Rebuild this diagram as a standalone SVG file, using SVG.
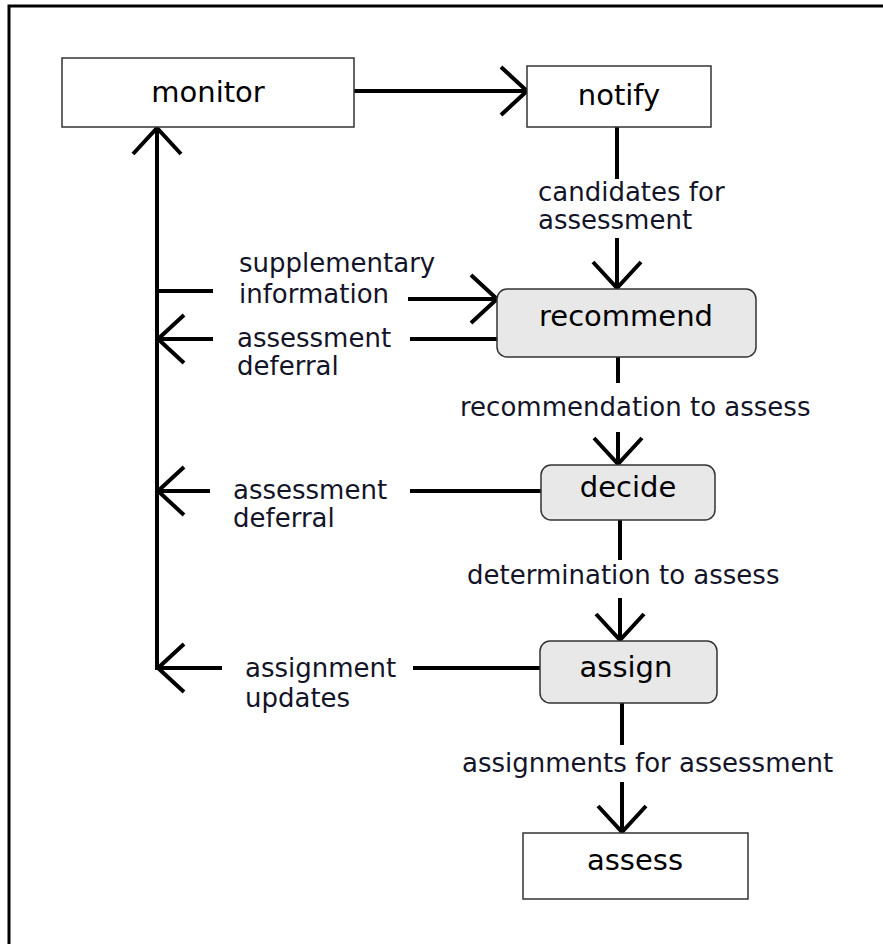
<svg xmlns="http://www.w3.org/2000/svg" width="883" height="944" viewBox="0 0 883 944">
  <style>
    .box { fill: #ffffff; stroke: #333333; stroke-width: 1.5; }
    .step { fill: #e8e8e8; stroke: #333333; stroke-width: 1.5; }
    .name { font-family: "DejaVu Sans", Verdana, sans-serif; font-size: 29px; fill: #000000; text-anchor: middle; }
    .lbl { font-family: "DejaVu Sans", Verdana, sans-serif; font-size: 26px; fill: #141428; }
    .wire { fill: none; stroke: #000000; stroke-width: 4; }
  </style>
  <defs>
    <marker id="arr" viewBox="-32 -30 36 60" refX="0" refY="0" markerWidth="36" markerHeight="60" markerUnits="userSpaceOnUse" orient="auto">
      <path d="M-26,-24 L0,0 L-26,24" fill="none" stroke="#000000" stroke-width="4"/>
    </marker>
  </defs>

  <rect width="883" height="944" fill="#ffffff"/>
  <!-- frame -->
  <path d="M9,944 V6 H883" fill="none" stroke="#000000" stroke-width="3"/>

  <!-- connectors -->
  <g id="connectors" class="wire">
    <path d="M354,91 H527" marker-end="url(#arr)"/>
    <path d="M617,127 V179"/>
    <path d="M617,238 V288" marker-end="url(#arr)"/>
    <path d="M157,291 H213"/>
    <path d="M408,299 H497" marker-end="url(#arr)"/>
    <path d="M497,339 H410"/>
    <path d="M213,339 H158" marker-end="url(#arr)"/>
    <path d="M618,357 V383"/>
    <path d="M618,432 V464" marker-end="url(#arr)"/>
    <path d="M541,491 H410"/>
    <path d="M210,491 H158" marker-end="url(#arr)"/>
    <path d="M620,520 V560"/>
    <path d="M620,598 V640" marker-end="url(#arr)"/>
    <path d="M540,668 H413"/>
    <path d="M222,668 H158" marker-end="url(#arr)"/>
    <path d="M622,703 V745"/>
    <path d="M622,782 V832" marker-end="url(#arr)"/>
    <path d="M157,670 V128" marker-end="url(#arr)"/>
  </g>

  <!-- connector labels -->
  <g id="labels" class="lbl">
    <text x="538" y="201">candidates for</text>
    <text x="538" y="229">assessment</text>
    <text x="239" y="272">supplementary</text>
    <text x="239" y="303">information</text>
    <text x="237" y="347">assessment</text>
    <text x="237" y="375">deferral</text>
    <text x="460" y="416">recommendation to assess</text>
    <text x="233" y="499">assessment</text>
    <text x="233" y="527">deferral</text>
    <text x="467" y="584">determination to assess</text>
    <text x="245" y="677">assignment</text>
    <text x="245" y="707">updates</text>
    <text x="462" y="772">assignments for assessment</text>
  </g>

  <!-- nodes -->
  <g id="monitor">
    <rect class="box" x="62" y="58" width="292" height="69"/>
    <text class="name" x="208" y="102">monitor</text>
  </g>
  <g id="notify">
    <rect class="box" x="527" y="66" width="184" height="61"/>
    <text class="name" x="619" y="105">notify</text>
  </g>
  <g id="recommend">
    <rect class="step" x="497" y="289" width="259" height="68" rx="10"/>
    <text class="name" x="626" y="326">recommend</text>
  </g>
  <g id="decide">
    <rect class="step" x="541" y="465" width="174" height="55" rx="10"/>
    <text class="name" x="628" y="497">decide</text>
  </g>
  <g id="assign">
    <rect class="step" x="540" y="641" width="177" height="62" rx="10"/>
    <text class="name" x="626" y="677">assign</text>
  </g>
  <g id="assess">
    <rect class="box" x="523" y="833" width="225" height="66"/>
    <text class="name" x="635" y="870">assess</text>
  </g>
</svg>
